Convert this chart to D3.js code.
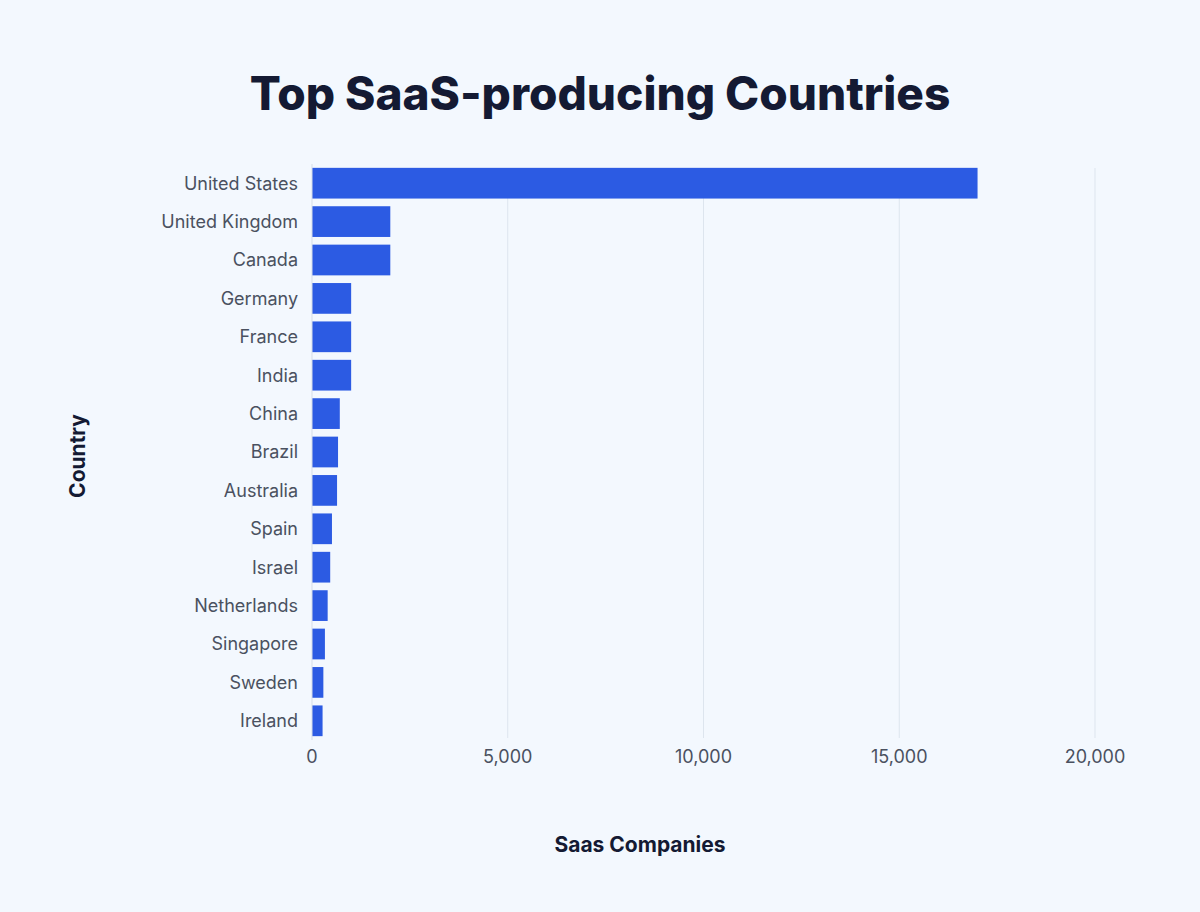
<!DOCTYPE html>
<html><head><meta charset="utf-8">
<script src="https://cdn.jsdelivr.net/npm/d3@7"></script>
<style>body{margin:0;background:#f3f8fe;}svg{display:block;font-family:Inter,"Noto Sans",sans-serif;}</style>
</head><body><svg width="1200" height="912"></svg>
<script>
const countries=["United States","United Kingdom","Canada","Germany","France","India","China","Brazil","Australia","Spain","Israel","Netherlands","Singapore","Sweden","Ireland"];
const companies=[17000,2000,2000,1000,1000,1000,710,665,640,510,465,400,330,290,270];
const xTicks=[0,5000,10000,15000,20000];
const svg=d3.select("svg");
svg.append("rect").attr("width",1200).attr("height",912).attr("fill","#f3f8fe");
const x=d3.scaleLinear().domain([0,20000]).range([312,1095]);
const y=d3.scaleBand().domain(countries).range([164,740]).paddingInner(0.2).paddingOuter(0.1);
svg.append("g").selectAll("line").data(xTicks.slice(1)).join("line")
 .attr("x1",d=>x(d)).attr("x2",d=>x(d)).attr("y1",168).attr("y2",738)
 .attr("stroke","#dde5ee").attr("stroke-width",1);
svg.append("g").selectAll("rect").data(countries).join("rect")
 .attr("x",x(0)).attr("y",d=>y(d)).attr("height",y.bandwidth())
 .attr("width",(d,i)=>x(companies[i])-x(0)).attr("fill","#2c5be3");
svg.append("line").attr("x1",x(0)).attr("x2",x(0)).attr("y1",164).attr("y2",740).attr("stroke","#d5dde8");
svg.append("g").selectAll("text").data(countries).join("text")
 .attr("x",298).attr("y",d=>y(d)+y.bandwidth()/2).attr("dy","0.35em").attr("text-anchor","end")
 .attr("font-size",18).attr("fill","#4a5160").text(d=>d);
svg.append("g").selectAll("text").data(xTicks).join("text")
 .attr("x",d=>x(d)).attr("y",763).attr("text-anchor","middle")
 .attr("font-size",18).attr("fill","#4a5160").text(d3.format(","));
svg.append("text").attr("x",600).attr("y",110).attr("text-anchor","middle")
 .attr("font-size",46).attr("font-weight",800).attr("fill","#141a33").text("Top SaaS-producing Countries");
svg.append("text").attr("x",640).attr("y",852).attr("text-anchor","middle")
 .attr("font-size",21).attr("font-weight",700).attr("fill","#141a33").text("Saas Companies");
svg.append("text").attr("transform","translate(85,456) rotate(-90)").attr("text-anchor","middle")
 .attr("font-size",21).attr("font-weight",700).attr("fill","#141a33").text("Country");
</script></body></html>
